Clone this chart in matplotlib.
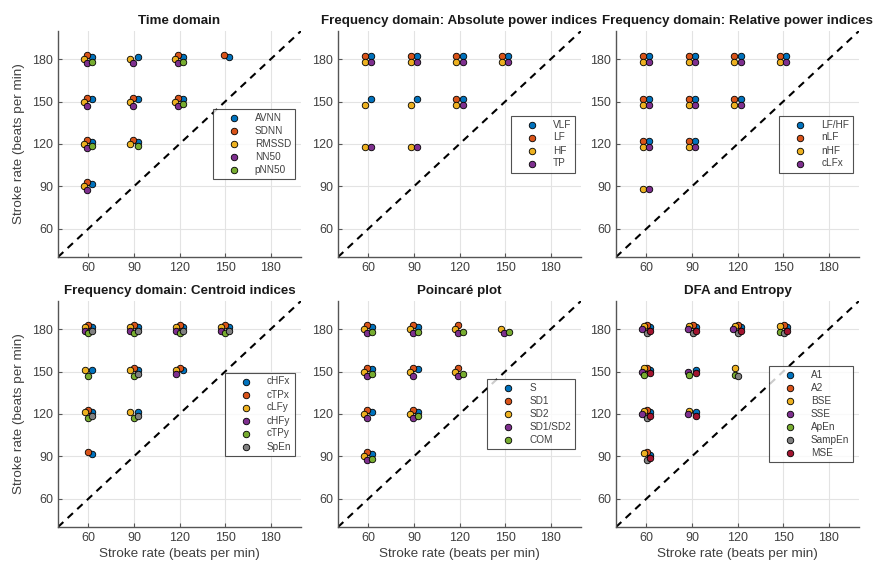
import numpy as np
import matplotlib
matplotlib.use("Agg")
import matplotlib.pyplot as plt

plt.rcParams['font.family'] = ['Liberation Sans', 'DejaVu Sans']

# (speed, stroke) pairs where each index is present
time_domain = {
    "AVNN":  [(60, 180), (90, 180), (120, 180), (150, 180), (60, 150), (90, 150), (120, 150), (60, 120), (90, 120), (60, 90)],
    "SDNN":  [(60, 180), (120, 180), (150, 180), (60, 150), (90, 150), (120, 150), (60, 120), (90, 120), (60, 90)],
    "RMSSD": [(60, 180), (90, 180), (120, 180), (60, 150), (90, 150), (120, 150), (60, 120), (90, 120), (60, 90)],
    "NN50":  [(60, 180), (90, 180), (120, 180), (60, 150), (90, 150), (120, 150), (60, 120), (60, 90)],
    "pNN50": [(60, 180), (120, 180), (120, 150), (60, 120), (90, 120)],
}
absolute_power = {
    "VLF": [(60, 180), (90, 180), (120, 180), (150, 180), (60, 150), (90, 150), (120, 150)],
    "LF":  [(60, 180), (90, 180), (120, 180), (150, 180), (120, 150)],
    "HF":  [(60, 180), (90, 180), (120, 180), (150, 180), (60, 150), (90, 150), (120, 150), (60, 120), (90, 120)],
    "TP":  [(60, 180), (90, 180), (120, 180), (150, 180), (120, 150), (60, 120), (90, 120)],
}
relative_power = {
    "LF/HF": [(60, 180), (90, 180), (120, 180), (150, 180), (60, 150), (90, 150), (120, 150), (60, 120), (90, 120)],
    "nLF":   [(60, 180), (90, 180), (120, 180), (150, 180), (60, 150), (90, 150), (120, 150), (60, 120), (90, 120)],
    "nHF":   [(60, 180), (90, 180), (120, 180), (150, 180), (60, 150), (90, 150), (120, 150), (60, 120), (90, 120), (60, 90)],
    "cLFx":  [(60, 180), (90, 180), (120, 180), (150, 180), (60, 150), (90, 150), (120, 150), (60, 120), (90, 120), (60, 90)],
}
centroid = {
    "cHFx": [(60, 180), (90, 180), (120, 180), (150, 180), (60, 150), (90, 150), (120, 150), (60, 120), (90, 120), (60, 90)],
    "cTPx": [(60, 180), (90, 180), (120, 180), (150, 180), (90, 150), (120, 150), (60, 120), (60, 90)],
    "cLFy": [(60, 180), (90, 180), (120, 180), (150, 180), (60, 150), (90, 150), (120, 150), (60, 120), (90, 120)],
    "cHFy": [(60, 180), (90, 180), (120, 180), (150, 180), (120, 150)],
    "cTPy": [(60, 180), (90, 180), (120, 180), (150, 180), (60, 150), (90, 150), (60, 120), (90, 120)],
    "SpEn": [(60, 180), (90, 180), (120, 180), (150, 180), (90, 150), (60, 120), (90, 120)],
}
poincare = {
    "S":       [(60, 180), (90, 180), (60, 150), (90, 150), (60, 120), (90, 120), (60, 90)],
    "SD1":     [(60, 180), (90, 180), (120, 180), (60, 150), (90, 150), (120, 150), (60, 120), (90, 120), (60, 90)],
    "SD2":     [(60, 180), (90, 180), (120, 180), (150, 180), (60, 150), (90, 150), (120, 150), (60, 120), (90, 120), (60, 90)],
    "SD1/SD2": [(60, 180), (90, 180), (120, 180), (150, 180), (60, 150), (90, 150), (120, 150), (60, 120), (90, 120), (60, 90)],
    "COM":     [(60, 180), (90, 180), (120, 180), (150, 180), (60, 150), (120, 150), (90, 120), (60, 90)],
}
dfa_entropy = {
    "A1":     [(60, 180), (90, 180), (120, 180), (150, 180), (60, 150), (90, 150), (60, 120), (90, 120), (60, 90)],
    "A2":     [(60, 180), (90, 180), (120, 180), (150, 180), (60, 150), (60, 120), (60, 90)],
    "BSE":    [(60, 180), (90, 180), (120, 180), (150, 180), (60, 150), (120, 150), (60, 120), (90, 120), (60, 90)],
    "SSE":    [(60, 180), (90, 180), (120, 180), (60, 150), (90, 150), (60, 120), (90, 120)],
    "ApEn":   [(150, 180), (60, 150), (90, 150), (120, 150)],
    "SampEn": [(60, 180), (90, 180), (120, 180), (150, 180), (120, 150), (60, 120), (60, 90)],
    "MSE":    [(60, 180), (90, 180), (120, 180), (150, 180), (60, 150), (90, 150), (60, 120), (90, 120), (60, 90)],
}

panels = [
    ("Time domain", time_domain),
    ("Frequency domain: Absolute power indices", absolute_power),
    ("Frequency domain: Relative power indices", relative_power),
    ("Frequency domain: Centroid indices", centroid),
    ("Poincaré plot", poincare),
    ("DFA and Entropy", dfa_entropy),
]

colors = ["#0072BD", "#D95319", "#EDB120", "#7E2F8E", "#77AC30", "#808080", "#A2142F"]
ticks = [60, 90, 120, 150, 180]
label = "Stroke rate (beats per min)"

fig = plt.figure(figsize=(8.81, 5.65), dpi=100)
lefts = [58 / 881, 338 / 881, 616 / 881]
bottoms = [(565 - 257) / 565, (565 - 527) / 565]
w, h = 243 / 881, 226 / 565

for i, (title, series) in enumerate(panels):
    row, col = divmod(i, 3)
    ax = fig.add_axes([lefts[col], bottoms[row], w, h])
    n = len(series)
    r = 2.9
    for k, (name, pts) in enumerate(series.items()):
        ang = np.pi / n + 2 * np.pi * k / n
        xs = np.array([p[0] for p in pts]) + r * np.cos(ang)
        ys = np.array([p[1] for p in pts]) + r * np.sin(ang)
        ax.scatter(xs, ys, s=22, color=colors[k], edgecolor="black",
                   linewidth=0.6, label=name, zorder=3)
    ax.plot([40, 200], [40, 200], color="black", lw=1.5, ls="--",
            dashes=(3.5, 2.8), zorder=2)
    ax.set_xlim(40, 200)
    ax.set_ylim(40, 200)
    ax.set_xticks(ticks)
    ax.set_yticks(ticks)
    ax.grid(True, color="#e3e3e3", lw=0.8)
    ax.set_axisbelow(True)
    for s in ["top", "right"]:
        ax.spines[s].set_visible(False)
    for s in ["left", "bottom"]:
        ax.spines[s].set_color("#555555")
        ax.spines[s].set_linewidth(1.0)
    ax.tick_params(direction="in", length=3, color="#555555",
                   labelcolor="#404040", labelsize=9)
    ax.set_title(title, fontsize=9.6, fontweight="bold", color="#1a1a1a", pad=5)
    if row == 1:
        ax.set_xlabel(label, fontsize=9.7, color="#404040", labelpad=3)
    if col == 0:
        ax.set_ylabel(label, fontsize=9.7, color="#404040", labelpad=5)
    leg = ax.legend(loc="center right", fontsize=7.2, frameon=True, fancybox=False,
                    edgecolor="#262626", handlelength=3.4, handletextpad=0.4,
                    labelspacing=0.3, borderaxespad=0.6, scatterpoints=1)
    leg.get_frame().set_linewidth(0.8)
    for t in leg.get_texts():
        t.set_color("#404040")

fig.savefig("out.png", dpi=100)
